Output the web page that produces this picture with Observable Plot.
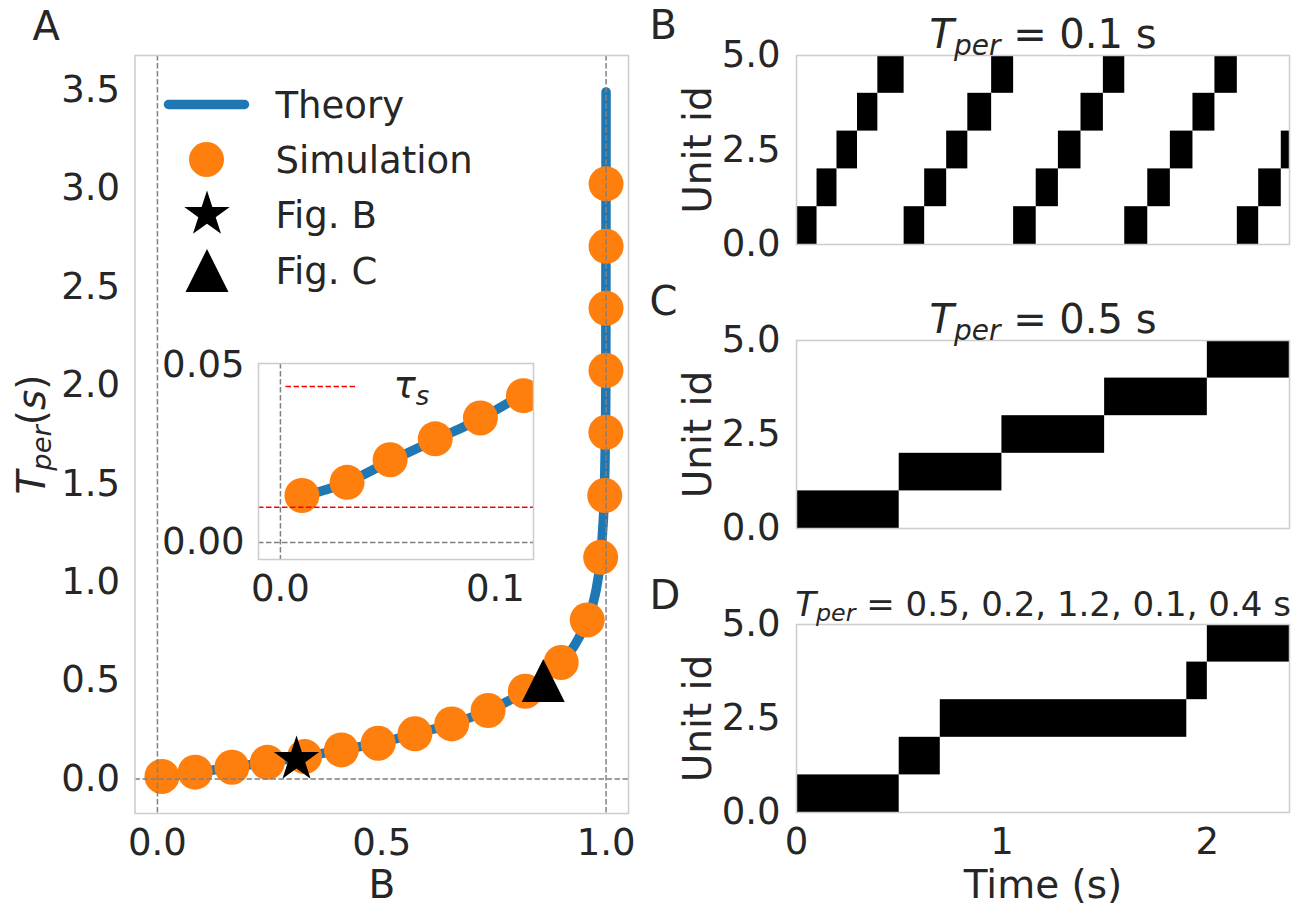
<!DOCTYPE html>
<html>
<head>
<meta charset="utf-8">
<script src="https://cdn.jsdelivr.net/npm/d3@7"></script>
<script src="https://cdn.jsdelivr.net/npm/@observablehq/plot@0.6"></script>
<style>
  body { margin: 0; background: #fff; }
  #fig { position: relative; width: 1304px; height: 905px; overflow: hidden; background: #fff; font-family: "DejaVu Sans", sans-serif; }
  #fig svg { position: absolute; overflow: visible; }
  #fig text { white-space: pre; }
</style>
</head>
<body>
<div id="fig"></div>
<script>
// ---------------- data ----------------
// Panel A: theory curve T_per(B)
const theoryB = [0.01, 0.031, 0.051, 0.072, 0.093, 0.113, 0.166, 0.245, 0.328, 0.41, 0.492, 0.574, 0.656, 0.737, 0.82, 0.86, 0.90, 0.93, 0.958, 0.976, 0.988, 0.992, 0.996, 0.998, 0.9995, 1.0];
const theoryT = [0.013, 0.017, 0.023, 0.029, 0.035, 0.042, 0.060, 0.085, 0.114, 0.148, 0.182, 0.23, 0.28, 0.348, 0.446, 0.51, 0.592, 0.68, 0.808, 0.94, 1.126, 1.25, 1.44, 1.67, 2.0, 3.49];
// Panel A: simulation points
const simB = [0.01, 0.084, 0.166, 0.245, 0.328, 0.41, 0.492, 0.574, 0.656, 0.737, 0.82, 0.90, 0.958, 0.988, 0.997, 0.9995, 0.9998, 0.9999, 1.0, 1.0];
const simT = [0.013, 0.035, 0.060, 0.085, 0.114, 0.148, 0.182, 0.23, 0.28, 0.348, 0.446, 0.592, 0.808, 1.126, 1.44, 1.761, 2.075, 2.391, 2.706, 3.023];
// Inset simulation points
const insetB = [0.01, 0.031, 0.051, 0.072, 0.093, 0.113];
const insetT = [0.0133, 0.017, 0.0234, 0.0293, 0.0352, 0.0415];
// Highlighted cases
const markerNames = ["Fig. B", "Fig. C"];
const markerB = [0.31, 0.86];
const markerT = [0.10, 0.50];
const tauS = 0.01;
const legendLabels = ["Theory", "Simulation", "Fig. B", "Fig. C"];
const ticksAx = [0, 0.5, 1.0];
const ticksAy = [0, 0.5, 1.0, 1.5, 2.0, 2.5, 3.0, 3.5];
const insetTicksX = [0, 0.1];
const insetTicksY = [0, 0.05];
// Raster panels
const unitTicks = [0, 2.5, 5];
const timeTicks = [0, 1, 2];
const rasterBStart = [0, 0.10, 0.197, 0.297, 0.396, 0.524, 0.624, 0.731, 0.834, 0.95, 1.057, 1.167, 1.275, 1.385, 1.494, 1.598, 1.71, 1.82, 1.93, 2.037, 2.146, 2.25, 2.36];
const rasterBEnd   = [0.10, 0.197, 0.297, 0.396, 0.524, 0.624, 0.731, 0.834, 0.95, 1.057, 1.167, 1.275, 1.385, 1.494, 1.598, 1.71, 1.82, 1.93, 2.037, 2.146, 2.25, 2.36, 2.47];
const rasterBUnit  = [0, 1, 2, 3, 4, 0, 1, 2, 3, 4, 0, 1, 2, 3, 4, 0, 1, 2, 3, 4, 0, 1, 2];
const rasterCStart = [0, 0.5, 1.0, 1.5, 2.0];
const rasterCEnd   = [0.5, 1.0, 1.5, 2.0, 2.5];
const rasterCUnit  = [0, 1, 2, 3, 4];
const rasterDStart = [0, 0.5, 0.7, 1.9, 2.0];
const rasterDEnd   = [0.5, 0.7, 1.9, 2.0, 2.4];
const rasterDUnit  = [0, 1, 2, 3, 4];
const titles = ["T_per = 0.1 s", "T_per = 0.5 s", "T_per = 0.5, 0.2, 1.2, 0.1, 0.4 s"];

// ---------------- helpers ----------------
const BLUE = "#1f77b4", ORANGE = "#ff7f0e", FRAME = "#cccccc", TXT = "#262626";
const zip2 = (a, b) => a.map((v, i) => ({B: v, T: b[i]}));
const theory = zip2(theoryB, theoryT);
const sim = zip2(simB, simT);
const inset = zip2(insetB, insetT);
const markers = markerNames.map((n, i) => ({name: n, B: markerB[i], T: markerT[i]}));
const blocks = (s, e, u) => s.map((v, i) => ({start: v, end: e[i], unit: u[i], top: u[i] + 1}));

const hline = {draw(ctx, size) { const r = Math.sqrt(size / Math.PI); ctx.moveTo(-r, 0); ctx.lineTo(r, 0); }};
const tri = {draw(ctx, size) { const r = Math.sqrt(size / Math.PI); ctx.moveTo(0, -r); ctx.lineTo(r, r); ctx.lineTo(-r, r); ctx.closePath(); }};

const baseStyle = {fontFamily: "DejaVu Sans", fontSize: "37px", color: TXT, background: "transparent", overflow: "visible"};
const dash = "5.5,2.5";

const MATH = {
  "T_per(s)": [["T", "i"], ["per", "is"], ["(", ""], ["s", "i"], [")", ""]],
  "τ_s": [["τ", "i"], ["s", "is"]]
};
titles.forEach(t => { MATH[t] = [["T", "i"], ["per", "is"], [t.slice(5), ""]]; });

function mathify(svg) {
  const ns = "http://www.w3.org/2000/svg";
  svg.querySelectorAll("text").forEach(t => {
    const spec = MATH[t.textContent];
    if (!spec) return;
    while (t.firstChild) t.removeChild(t.firstChild);
    let shifted = false;
    spec.forEach(([s, f]) => {
      const ts = document.createElementNS(ns, "tspan");
      ts.textContent = s;
      if (f.includes("i")) ts.setAttribute("font-style", "italic");
      if (f.includes("s")) {
        ts.setAttribute("font-size", "70%");
        if (!shifted) ts.setAttribute("dy", "0.25em");
        shifted = true;
      } else if (shifted) {
        ts.setAttribute("dy", "-0.175em");
        shifted = false;
      }
      t.appendChild(ts);
    });
  });
}

const fig = document.getElementById("fig");
function place(svg, left, top) {
  svg.style.left = left + "px";
  svg.style.top = top + "px";
  fig.appendChild(svg);
  mathify(svg);
}

// ---------------- Panel A ----------------
const legDy = [49, 104, 159, 215];
const plotA = Plot.plot({
  width: 650, height: 905,
  marginLeft: 134.5, marginRight: 22, marginTop: 55, marginBottom: 92,
  style: baseStyle,
  x: {domain: [-0.05, 1.05], ticks: ticksAx, tickFormat: d3.format(".1f"), tickSize: 0, tickPadding: 15, label: null},
  y: {domain: [-0.175, 3.675], ticks: ticksAy, tickFormat: d3.format(".1f"), tickSize: 0, tickPadding: 15, label: null},
  marks: [
    Plot.line(theory, {x: "B", y: "T", stroke: BLUE, strokeWidth: 9.5, curve: "monotone-x", strokeLinecap: "round"}),
    Plot.dot(sim, {x: "B", y: "T", r: 17.5, fill: ORANGE}),
    Plot.dot(markers.filter(d => d.name === "Fig. B"), {x: "B", y: "T", symbol: "star", r: 14.3, fill: "black"}),
    Plot.dot(markers.filter(d => d.name === "Fig. C"), {x: "B", y: "T", symbol: tri, r: 21.5, fill: "black"}),
    Plot.ruleX([0, 1], {stroke: "#808080", strokeWidth: 1.5, strokeDasharray: dash}),
    Plot.ruleY([0], {stroke: "#808080", strokeWidth: 1.5, strokeDasharray: dash}),
    // legend
    Plot.dot([legendLabels[0]], {frameAnchor: "top-left", dx: 71.5, dy: legDy[0], symbol: hline, r: 38, fill: "none", stroke: BLUE, strokeWidth: 9.5, strokeLinecap: "round"}),
    Plot.dot([legendLabels[1]], {frameAnchor: "top-left", dx: 71.5, dy: legDy[1], r: 17.5, fill: ORANGE}),
    Plot.dot([legendLabels[2]], {frameAnchor: "top-left", dx: 72, dy: legDy[2], symbol: "star", r: 14.3, fill: "black"}),
    Plot.dot([legendLabels[3]], {frameAnchor: "top-left", dx: 72, dy: legDy[3], symbol: tri, r: 21.5, fill: "black"}),
    ...legendLabels.map((l, i) => Plot.text([l], {frameAnchor: "top-left", dx: 140.5, dy: legDy[i] + 2, textAnchor: "start", lineAnchor: "middle", fontSize: 37})),
    Plot.frame({stroke: FRAME, strokeWidth: 1.5}),
    Plot.text(["A"], {frameAnchor: "top-left", dx: -102.5, dy: -16, textAnchor: "start", lineAnchor: "bottom", fontSize: 40}),
    Plot.text(["B"], {frameAnchor: "bottom", dy: 84, textAnchor: "middle", lineAnchor: "bottom", fontSize: 39}),
    Plot.text(["T_per(s)"], {frameAnchor: "left", dx: -90.5, rotate: -90, textAnchor: "middle", lineAnchor: "bottom", fontSize: 39})
  ]
});
place(plotA, 0, 0);

// ---------------- Inset ----------------
const plotInset = Plot.plot({
  width: 400, height: 290,
  marginLeft: 108, marginRight: 17, marginTop: 33, marginBottom: 61,
  style: baseStyle,
  x: {domain: [-0.0102, 0.1177], ticks: insetTicksX, tickFormat: d3.format(".1f"), tickSize: 0, tickPadding: 15, label: null},
  y: {domain: [-0.0048, 0.0506], ticks: insetTicksY, tickFormat: d3.format(".2f"), tickSize: 0, tickPadding: 14, label: null},
  marks: [
    Plot.frame({fill: "white", stroke: "none"}),
    Plot.line(theory, {x: "B", y: "T", stroke: BLUE, strokeWidth: 9.5, curve: "monotone-x", clip: true}),
    Plot.dot(inset, {x: "B", y: "T", r: 17.5, fill: ORANGE, clip: true}),
    Plot.ruleY([tauS], {stroke: "red", strokeWidth: 1.5, strokeDasharray: dash}),
    Plot.ruleX([0], {stroke: "#808080", strokeWidth: 1.5, strokeDasharray: dash}),
    Plot.ruleY([0], {stroke: "#808080", strokeWidth: 1.5, strokeDasharray: dash}),
    Plot.dot(["τ_s"], {frameAnchor: "top-left", dx: 63, dy: 23, symbol: hline, r: 36, fill: "none", stroke: "red", strokeWidth: 1.5, strokeDasharray: dash}),
    Plot.text(["τ_s"], {frameAnchor: "top-left", dx: 135, dy: 23, textAnchor: "start", lineAnchor: "middle", fontSize: 37}),
    Plot.frame({stroke: FRAME, strokeWidth: 1.5})
  ]
});
place(plotInset, 150, 330);

// ---------------- Raster panels B, C, D ----------------
function raster({data, height, mTop, mBottom, letter, letterDy, title, titleDy, titleSize, xAxis}) {
  return Plot.plot({
    width: 664, height,
    marginLeft: 156, marginRight: 15, marginTop: mTop, marginBottom: mBottom,
    style: baseStyle,
    x: xAxis
      ? {domain: [0, 2.4], ticks: timeTicks, tickFormat: d3.format("d"), tickSize: 0, tickPadding: 15, label: null}
      : {domain: [0, 2.4], axis: null},
    y: {domain: [0, 5], ticks: unitTicks, tickFormat: d3.format(".1f"), tickSize: 0, tickPadding: 16, label: null},
    marks: [
      Plot.rect(data, {x1: "start", x2: "end", y1: "unit", y2: "top", fill: "black", clip: true}),
      Plot.frame({stroke: FRAME, strokeWidth: 1.5}),
      Plot.text([letter], {frameAnchor: "top-left", dx: -147, dy: letterDy, textAnchor: "start", lineAnchor: "bottom", fontSize: 40}),
      Plot.text([title], {frameAnchor: "top", dy: titleDy, textAnchor: "middle", lineAnchor: "bottom", fontSize: titleSize}),
      Plot.text(["Unit id"], {frameAnchor: "left", dx: -86, rotate: -90, textAnchor: "middle", lineAnchor: "bottom", fontSize: 39}),
      ...(xAxis ? [Plot.text(["Time (s)"], {frameAnchor: "bottom", dy: 85, textAnchor: "middle", lineAnchor: "bottom", fontSize: 39})] : [])
    ]
  });
}

place(raster({data: blocks(rasterBStart, rasterBEnd, rasterBUnit), height: 290, mTop: 55, mBottom: 46,
  letter: "B", letterDy: -17, title: titles[0], titleDy: -8, titleSize: 40, xAxis: false}), 640, 0);
place(raster({data: blocks(rasterCStart, rasterCEnd, rasterCUnit), height: 290, mTop: 50, mBottom: 52,
  letter: "C", letterDy: -26, title: titles[1], titleDy: -8, titleSize: 40, xAxis: false}), 640, 290);
place(raster({data: blocks(rasterDStart, rasterDEnd, rasterDUnit), height: 325, mTop: 44, mBottom: 93,
  letter: "D", letterDy: -16, title: titles[2], titleDy: -9, titleSize: 34, xAxis: true}), 640, 580);
</script>
</body>
</html>
